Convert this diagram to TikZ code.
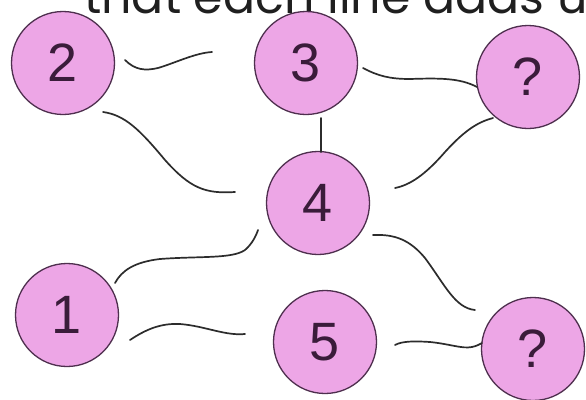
\documentclass[tikz,border=0pt]{standalone}
\usepackage{fontspec}
\setmainfont{Liberation Sans}
\newfontfamily\headfont{Poppins}
\definecolor{pinkfill}{HTML}{EDA6E6}
\definecolor{ringcol}{HTML}{4E2F4E}
\definecolor{digitcol}{HTML}{3A1C3A}
\definecolor{wirecol}{HTML}{2C2C2C}
\begin{document}
\begin{tikzpicture}[x=1pt,y=-1pt,
  ball/.style={circle,draw=ringcol,line width=1.3pt,fill=pinkfill,minimum size=103pt,inner sep=0pt,
    font=\fontsize{54}{54}\selectfont,text=digitcol},
  wire/.style={draw=wirecol,line width=1.7pt,line cap=round}]
\useasboundingbox (0,0) rectangle (586,399);
\fill[white] (0,0) rectangle (586,399);
\node[anchor=base west,font=\headfont\fontsize{47.5}{47.5}\selectfont,text=black!88,inner sep=0pt] (title) at (84,13) {that each line adds up};
\node[ball] (n2) at (63,63) {2};
\node[ball] (n3) at (306,63) {3};
\node[ball] (nq1) at (528,77) {?};
\node[ball] (n4) at (318,203) {4};
\node[ball] (n1) at (67,315) {1};
\node[ball] (n5) at (325,342) {5};
\node[ball] (nq2) at (533,349) {?};
% 2 - 3
\draw[wire] ([shift={(62,-3)}]n2.center) .. controls (135,70) and (145,71) .. (158,68)
  .. controls (175,63) and (195,53) .. ([shift={(-94,-11)}]n3.center);
% 2 - 4
\draw[wire] ([shift={(40,49)}]n2.center) .. controls (125,115) and (140,130) .. (165,160)
  .. controls (190,188) and (205,194) .. ([shift={(-83,-11)}]n4.center);
% 3 - 4
\draw[wire] ([shift={(15,55)}]n3.center) -- ([shift={(3,-51)}]n4.center);
% 3 - ?top
\draw[wire] ([shift={(57,5)}]n3.center) .. controls (378,76) and (390,79) .. (410,79)
  .. controls (440,78) and (460,78) .. ([shift={(-51,10)}]nq1.center);
% ?top - 4
\draw[wire] ([shift={(-35,41)}]nq1.center) .. controls (478,122) and (465,130) .. (445,152)
  .. controls (425,175) and (410,185) .. ([shift={(77,-15)}]n4.center);
% 1 - 4
\draw[wire] ([shift={(48,-32)}]n1.center) .. controls (122,270) and (135,262) .. (160,259)
  .. controls (200,256) and (232,259) .. (245,250)
  .. controls (252,244) and (256,236) .. ([shift={(-60,27)}]n4.center);
% 1 - 5
\draw[wire] ([shift={(63,25)}]n1.center) .. controls (145,330) and (160,323) .. (180,324)
  .. controls (205,326) and (225,336) .. ([shift={(-80,-8)}]n5.center);
% 4 - ?bottom
\draw[wire] ([shift={(55,32)}]n4.center) .. controls (395,234) and (410,240) .. (425,258)
  .. controls (445,285) and (455,308) .. ([shift={(-58,-39)}]nq2.center);
% 5 - ?bottom
\draw[wire] ([shift={(70,3)}]n5.center) .. controls (402,341) and (415,341) .. (430,342)
  .. controls (450,344) and (462,349) .. (472,347)
  .. controls (477,346) and (480,344) .. ([shift={(-51,-6)}]nq2.center);
\end{tikzpicture}
\end{document}
